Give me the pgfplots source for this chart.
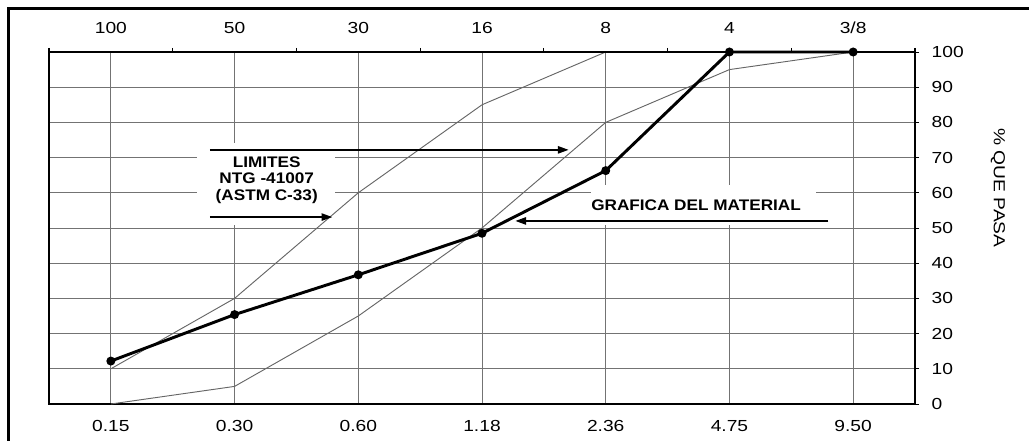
\documentclass[border=0pt]{standalone}
\usepackage{fontspec}
\setmainfont{Liberation Sans}
\newfontfamily\widefont[FakeStretch=1.2]{Liberation Sans}
\newfontfamily\widebold[FakeStretch=1.12]{Liberation Sans Bold}
\usepackage{pgfplots}
\pgfplotsset{compat=1.18}
\usetikzlibrary{arrows.meta}

\begin{document}
\begin{tikzpicture}
\pgfplotsset{
  every axis/.append style={
    width=649.5pt, height=264pt, scale only axis,
    xmin=-0.5, xmax=6.5, ymin=0, ymax=100,
    /pgf/number format/assume math mode=true,
    tick label style={font=\widefont\fontsize{12}{14}\selectfont},
    axis line style={line width=1.4pt},
  }
}
% main axis: sieve openings (mm) and % passing
\begin{axis}[
  clip=false,
  xtick={0,...,6},
  xticklabels={0.15,0.30,0.60,1.18,2.36,4.75,9.50},
  xtick pos=bottom,
  x tick style={draw=none},
  xticklabel style={yshift=-6pt},
  ytick={0,10,...,100},
  ytick pos=right, yticklabel pos=right,
  tick align=outside, major tick length=3pt,
  y tick style={line width=0.7pt, black},
  yticklabel style={xshift=6pt},
  grid=major,
  grid style={black!55, line width=0.6pt},
]
% white patches behind the notes
\fill[white] (axis cs:0.70,50.8) rectangle (axis cs:1.81,74.1);
\fill[white] (axis cs:3.88,50.8) rectangle (axis cs:5.70,62.2);

% limits NTG-41007 (ASTM C-33)
\addplot[black!60, line width=0.7pt] coordinates {
  (0,10) (1,30) (2,60) (3,85) (4,100)
};
\addplot[black!60, line width=0.7pt] coordinates {
  (0,0) (1,5) (2,25) (3,50) (4,80) (5,95) (6,100)
};
% material
\addplot[black, line width=2.2pt, mark=*, mark size=2.2pt] coordinates {
  (0,12.2) (1,25.4) (2,36.7) (3,48.5) (4,66.3) (5,100) (6,100)
};

\draw[line width=1.1pt, -{Triangle[length=8pt,width=5.5pt]}]
  (axis cs:0.80,72.2) -- (axis cs:3.70,72.2);
\draw[line width=1.1pt, -{Triangle[length=8pt,width=5.5pt]}]
  (axis cs:0.80,53.1) -- (axis cs:1.79,53.1);
\draw[line width=1.1pt, -{Triangle[length=8pt,width=5.5pt]}]
  (axis cs:5.80,52.0) -- (axis cs:3.27,52.0);

\node[align=center, font=\widebold\fontsize{11.5}{12.2}\selectfont]
  at (axis cs:1.26,63.6) {LIMITES\\NTG -41007\\(ASTM C-33)};
\node[font=\widebold\fontsize{11.5}{13}\selectfont]
  at (axis cs:4.73,56.5) {GRAFICA DEL MATERIAL};
\node[rotate=-90, font=\widefont\fontsize{12}{14}\selectfont]
  at (rel axis cs:1.0958,0.614) {\% QUE PASA};

% page frame (left and top edges only)
\draw[line width=2.2pt] (rel axis cs:-0.0467,-0.12) -- (rel axis cs:-0.0467,1.1236)
  -- (rel axis cs:1.14,1.1236);
\coordinate (bbSW) at (rel axis cs:-0.05658,-0.10511);
\coordinate (bbNE) at (rel axis cs:1.13164,1.14773);
\end{axis}

% top axis: sieve numbers
\begin{axis}[
  axis x line*=top,
  hide y axis,
  xtick={0,...,6},
  xticklabels={100,50,30,16,8,4,3/8},
  xticklabel style={yshift=10pt},
  major tick length=0pt,
  extra x ticks={-0.5,0.5,...,6.5},
  extra x tick labels={},
  extra x tick style={tick align=outside, major tick length=3pt,
    tick style={line width=0.8pt, black}},
]
\addplot[draw=none] coordinates {(0,0)};
\end{axis}
\pgfresetboundingbox
\path (bbSW) rectangle (bbNE);
\end{tikzpicture}
\end{document}
